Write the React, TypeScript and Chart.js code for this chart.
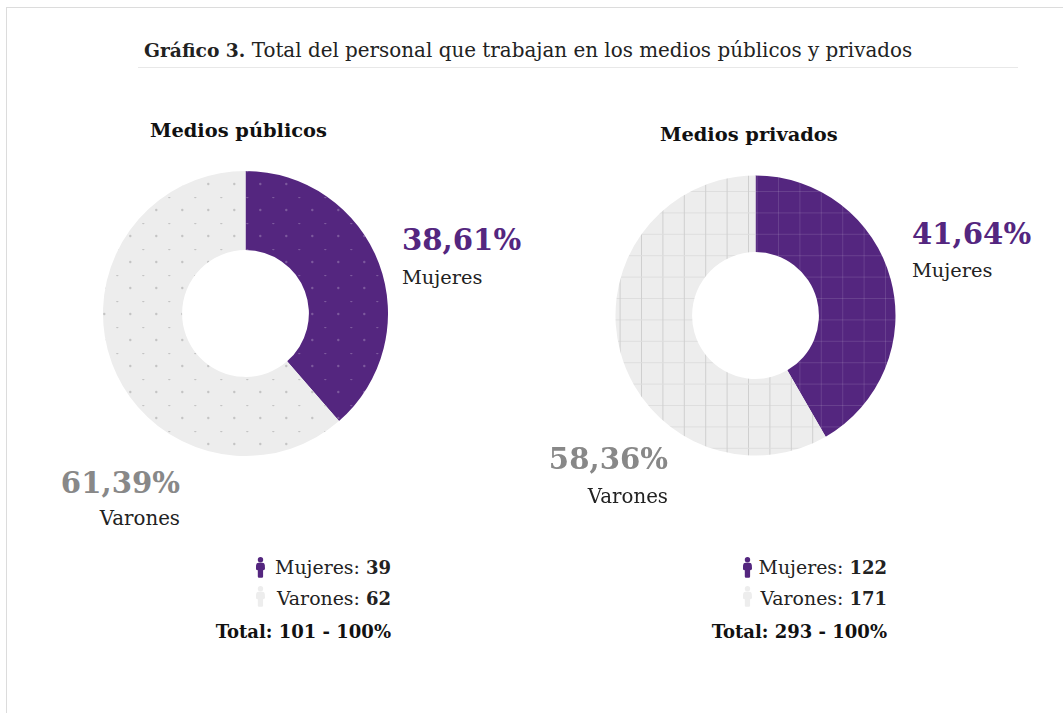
import React, { useEffect, useRef } from "react";
import { Chart, registerables } from "chart.js";

Chart.register(...registerables);

const categories = ["Mujeres", "Varones"];
const publicShare = [38.61, 61.39];
const privateShare = [41.64, 58.36];
const publicCounts = [39, 62];
const privateCounts = [122, 171];
const publicTotal = "Total: 101 - 100%";
const privateTotal = "Total: 293 - 100%";

const PURPLE = "#54267f";
const LIGHT = "#ededed";
const FONT = "'DejaVu Serif', serif";

function tile(w: number, h: number, paint: (c: CanvasRenderingContext2D) => void) {
  const el = document.createElement("canvas");
  el.width = w;
  el.height = h;
  const c = el.getContext("2d")!;
  paint(c);
  return c.createPattern(el, "repeat")!;
}

// Staggered dots over a flat fill
function dotPattern(base: string, dot: string, ox: number, oy: number) {
  return tile(26, 26, (c) => {
    c.fillStyle = base;
    c.fillRect(0, 0, 26, 26);
    c.fillStyle = dot;
    for (const [x, y] of [[ox, oy], [ox + 13, oy + 13]]) {
      c.beginPath();
      c.arc(x % 26, y % 26, 1.2, 0, Math.PI * 2);
      c.fill();
    }
  });
}

// Square lattice over a flat fill; five cells per tile keep the 21.4px pitch
function gridPattern(base: string, vertical: string, horizontal: string, ox: number, oy: number) {
  const pitch = 21.4;
  return tile(107, 107, (c) => {
    c.fillStyle = base;
    c.fillRect(0, 0, 107, 107);
    for (let i = 0; i < 5; i++) {
      c.fillStyle = horizontal;
      c.fillRect(0, (oy + i * pitch) % 107, 107, 1);
      c.fillStyle = vertical;
      c.fillRect((ox + i * pitch) % 107, 0, 1, 107);
    }
  });
}

type DonutProps = {
  values: number[];
  left: number;
  top: number;
  size: number;
  cutout: string;
  padding: number;
  makeFill: () => CanvasPattern[];
};

function Donut({ values, left, top, size, cutout, padding, makeFill }: DonutProps) {
  const ref = useRef<HTMLCanvasElement>(null);
  useEffect(() => {
    const chart = new Chart(ref.current!, {
      type: "doughnut",
      data: {
        labels: categories,
        datasets: [{ data: values, backgroundColor: makeFill(), borderWidth: 0, hoverOffset: 0 }],
      },
      options: {
        animation: false,
        responsive: false,
        cutout,
        layout: { padding },
        plugins: { legend: { display: false }, tooltip: { enabled: false } },
      },
    });
    return () => chart.destroy();
  }, []);
  return <canvas ref={ref} width={size} height={size} style={{ position: "absolute", left, top, width: size, height: size }} />;
}

type LabelProps = {
  children: React.ReactNode;
  baseline: number;
  left?: number;
  right?: number;
  size: number;
  color?: string;
  weight?: number;
};

// Absolutely placed line of text, positioned by its baseline
function Label({ children, baseline, left, right, size, color = "#222", weight = 400 }: LabelProps) {
  return (
    <div
      style={{
        position: "absolute",
        left,
        right: right === undefined ? undefined : 1063 - right,
        top: baseline - size,
        height: size * 1.3,
        lineHeight: `${size * 1.3}px`,
        fontFamily: FONT,
        fontSize: size,
        fontWeight: weight,
        color,
        whiteSpace: "nowrap",
      }}
    >
      {children}
    </div>
  );
}

function Person({ left, top, color }: { left: number; top: number; color: string }) {
  return (
    <svg viewBox="0 0 9 21" width={9} height={21} style={{ position: "absolute", left, top }}>
      <circle cx={4.5} cy={2.8} r={2.7} fill={color} />
      <path d="M2.6 5.8h3.8q2.2 0 2.4 2.2l.2 3.4q0 1.4-1 1.6l-.9.2v6.4q0 1.2-1.2 1.2H3q-1.2 0-1.2-1.2V13.2l-.9-.2q-1-.2-1-1.6L.1 8q.2-2.2 2.5-2.2z" fill={color} />
    </svg>
  );
}

function Tally({ right, iconLeft, counts, total }: { right: number; iconLeft: number; counts: number[]; total: string }) {
  return (
    <>
      <Person left={iconLeft} top={557} color={PURPLE} />
      <Person left={iconLeft} top={586} color={LIGHT} />
      <Label right={right} baseline={574} size={18.9}>
        {categories[0]}: <b style={{ fontSize: 18 }}>{counts[0]}</b>
      </Label>
      <Label right={right} baseline={605} size={18.9}>
        {categories[1]}: <b style={{ fontSize: 18 }}>{counts[1]}</b>
      </Label>
      <Label right={right} baseline={638} size={18} weight={700} color="#111">
        {total}
      </Label>
    </>
  );
}

const pct = (v: number) => v.toFixed(2).replace(".", ",") + "%";

export default function App() {
  return (
    <div style={{ position: "absolute", left: 0, top: 0, width: 1063, height: 713, overflow: "hidden", background: "#fff" }}>
      <div style={{ position: "absolute", left: 6, top: 7, width: 1100, height: 800, border: "1px solid #dcdcdc" }} />

      <Label left={144} baseline={58} size={19.9}>
        <b style={{ fontSize: 18.7 }}>Gráfico 3.</b> Total del personal que trabajan en los medios públicos y privados
      </Label>
      <div style={{ position: "absolute", left: 138, top: 67, width: 880, height: 1, background: "#e8e8e8" }} />

      <Label left={150} baseline={137} size={19.4} weight={700} color="#111">Medios públicos</Label>
      <Label left={660} baseline={141} size={19.4} weight={700} color="#111">Medios privados</Label>

      <Donut
        values={publicShare}
        left={103}
        top={171}
        size={285}
        cutout="44.5%"
        padding={0}
        makeFill={() => [
          dotPattern(PURPLE, "rgba(255,255,255,0.24)", 27.3, 13),
          dotPattern(LIGHT, "#c4c4c4", 27.3, 13),
        ]}
      />
      <Donut
        values={privateShare}
        left={615}
        top={175}
        size={281}
        cutout="45.3%"
        padding={0.5}
        makeFill={() => [
          gridPattern(PURPLE, "rgba(255,255,255,0.12)", "rgba(255,255,255,0.12)", 56, 16),
          gridPattern(LIGHT, "#cfcfcf", "#dedede", 26, 16),
        ]}
      />

      <Label left={402} baseline={251} size={29.2} weight={700} color={PURPLE}>{pct(publicShare[0])}</Label>
      <Label left={402} baseline={284} size={19.4}>{categories[0]}</Label>
      <Label right={180} baseline={494} size={29.2} weight={700} color="#888">{pct(publicShare[1])}</Label>
      <Label right={180} baseline={526} size={19.8}>{categories[1]}</Label>

      <Label left={912} baseline={245} size={29.2} weight={700} color={PURPLE}>{pct(privateShare[0])}</Label>
      <Label left={912} baseline={277} size={19.4}>{categories[0]}</Label>
      <Label right={668} baseline={470} size={29.2} weight={700} color="#888">{pct(privateShare[1])}</Label>
      <Label right={668} baseline={504} size={19.8}>{categories[1]}</Label>

      <Tally right={391} iconLeft={256} counts={publicCounts} total={publicTotal} />
      <Tally right={887} iconLeft={743} counts={privateCounts} total={privateTotal} />
    </div>
  );
}
